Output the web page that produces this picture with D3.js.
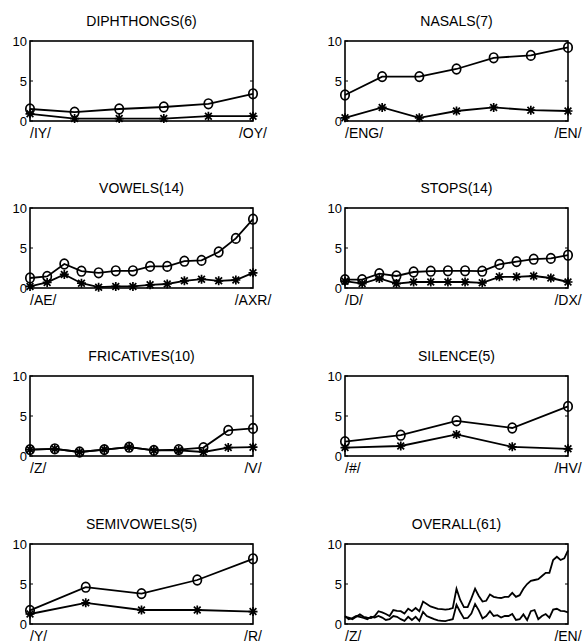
<!DOCTYPE html>
<html>
<head>
<meta charset="utf-8" />
<script src="https://cdn.jsdelivr.net/npm/d3@7"></script>
<style>
	body { margin: 0; background: #fff; }
	svg { display: block; font-family: 'Liberation Sans', Arial, sans-serif; }
	.frame { fill: none; stroke: #000; stroke-width: 1.6px; }
	.series { fill: none; stroke: #000; stroke-width: 1.8px; }
	.marker { fill: none; stroke: #000; stroke-width: 1.7px; }
</style>
</head>
<body>
<svg id="chart"></svg>
<script>
const titles = ['DIPHTHONGS(6)', 'NASALS(7)', 'VOWELS(14)', 'STOPS(14)', 'FRICATIVES(10)', 'SILENCE(5)', 'SEMIVOWELS(5)', 'OVERALL(61)'];
const firstLabels = ['/IY/', '/ENG/', '/AE/', '/D/', '/Z/', '/#/', '/Y/', '/Z/'];
const lastLabels = ['/OY/', '/EN/', '/AXR/', '/DX/', '/V/', '/HV/', '/R/', '/EN/'];
const yTicks = [0, 5, 10];

// circle series / star series for each class
const diphthongsO = [1.5, 1.1, 1.5, 1.75, 2.15, 3.4];
const diphthongsX = [0.9, 0.3, 0.3, 0.3, 0.6, 0.6];
const nasalsO = [3.25, 5.55, 5.55, 6.5, 7.9, 8.2, 9.2];
const nasalsX = [0.4, 1.7, 0.4, 1.25, 1.7, 1.35, 1.25];
const vowelsO = [1.25, 1.45, 3.0, 2.1, 1.9, 2.15, 2.15, 2.7, 2.7, 3.35, 3.45, 4.5, 6.2, 8.6];
const vowelsX = [0.2, 0.7, 1.7, 0.6, 0.1, 0.2, 0.2, 0.4, 0.5, 0.9, 1.1, 0.9, 1.0, 1.9];
const stopsO = [1.05, 1.05, 1.8, 1.5, 2.0, 2.1, 2.15, 2.15, 2.1, 2.95, 3.3, 3.6, 3.7, 4.1];
const stopsX = [0.85, 0.55, 1.2, 0.55, 0.75, 0.75, 0.75, 0.75, 0.65, 1.4, 1.4, 1.5, 1.25, 0.75];
const fricativesO = [0.8, 0.9, 0.5, 0.8, 1.1, 0.7, 0.8, 1.05, 3.2, 3.45];
const fricativesX = [0.8, 0.9, 0.5, 0.8, 1.1, 0.7, 0.7, 0.5, 1.05, 1.1];
const silenceO = [1.8, 2.6, 4.4, 3.5, 6.2];
const silenceX = [1.05, 1.25, 2.7, 1.15, 0.9];
const semivowelsO = [1.7, 4.6, 3.8, 5.5, 8.15];
const semivowelsX = [1.25, 2.65, 1.75, 1.75, 1.55];
const overallUpper = [0.9, 0.8, 0.6, 0.9, 1.2, 0.9, 0.8, 0.75, 1.0, 1.6,
	1.45, 1.25, 1.0, 1.75, 1.65, 1.6, 1.3, 1.9, 1.6, 2.0,
	1.6, 2.8, 2.5, 2.2, 2.05, 1.9, 1.85, 1.8, 1.85, 2.0,
	4.4, 3.0, 2.1, 2.1, 3.2, 4.4, 3.5, 2.8, 2.9, 3.7,
	3.4, 3.3, 3.25, 3.4, 3.4, 3.9, 3.4, 3.6, 4.4, 5.0,
	5.4, 5.5, 5.6, 6.0, 6.4, 6.4, 8.0, 8.4, 8.0, 8.2, 9.2];
const overallLower = [1.0, 0.6, 0.75, 1.0, 0.9, 0.75, 0.6, 0.9, 0.8, 1.0,
	0.8, 0.5, 0.6, 1.0, 0.9, 0.6, 0.4, 0.9, 0.5, 0.9,
	0.4, 1.5, 1.0, 0.8, 0.6, 0.45, 0.4, 0.35, 0.5, 0.6,
	2.4, 1.5, 0.7, 0.75, 1.3, 2.5, 1.7, 0.7, 1.0, 1.6,
	1.0, 1.1, 0.8, 1.0, 1.0, 1.25, 0.5, 0.6, 1.2, 0.5,
	1.6, 1.75, 0.6, 1.0, 1.25, 0.8, 1.8, 1.9, 1.65, 1.6, 1.45];

const circleSeries = [diphthongsO, nasalsO, vowelsO, stopsO, fricativesO, silenceO, semivowelsO, overallUpper];
const starSeries = [diphthongsX, nasalsX, vowelsX, stopsX, fricativesX, silenceX, semivowelsX, overallLower];

const width = 584;
const height = 644;
const colX = [30, 345];
const rowY = [41, 208, 376, 544];
const plotW = 223;
const plotH = 80;

const svg = d3.select('#chart').attr('width', width).attr('height', height);

const starPath = (s) => {
	const a = s * 0.75;
	return `M${-s},0H${s}M0,${-s}V${s}M${-a},${-a}L${a},${a}M${-a},${a}L${a},${-a}`;
};

titles.forEach((title, i) => {
	const x0 = colX[i % 2];
	const y0 = rowY[Math.floor(i / 2)];
	const O = circleSeries[i];
	const X = starSeries[i];
	const noMarkers = i === 7;

	const x = d3.scalePoint().domain(d3.range(O.length)).range([x0, x0 + plotW]);
	const y = d3.scaleLinear().domain([0, 10]).range([y0 + plotH, y0]);

	const g = svg.append('g');

	g.append('text')
		.attr('x', x0 + plotW / 2)
		.attr('y', y0 - 15.5)
		.attr('text-anchor', 'middle')
		.style('font-size', '14px')
		.text(title);

	g.append('rect')
		.attr('class', 'frame')
		.attr('x', x0)
		.attr('y', y0)
		.attr('width', plotW)
		.attr('height', plotH);

	// inward ticks on both sides
	yTicks.forEach((t) => {
		g.append('line').attr('x1', x0).attr('x2', x0 + 3).attr('y1', y(t)).attr('y2', y(t)).attr('stroke', '#000');
		g.append('line').attr('x1', x0 + plotW).attr('x2', x0 + plotW - 3).attr('y1', y(t)).attr('y2', y(t)).attr('stroke', '#000');
		g.append('text')
			.attr('x', x0 - 3)
			.attr('y', y(t))
			.attr('dy', '0.36em')
			.attr('text-anchor', 'end')
			.style('font-size', '13px')
			.text(t);
	});

	g.append('text')
		.attr('x', x0)
		.attr('y', y0 + plotH + 16.5)
		.style('font-size', '14px')
		.text(firstLabels[i]);
	g.append('text')
		.attr('x', x0 + plotW)
		.attr('y', y0 + plotH + 16.5)
		.attr('text-anchor', 'middle')
		.style('font-size', '14px')
		.text(lastLabels[i]);

	const line = d3.line().x((d, j) => x(j)).y((d) => y(d));

	[O, X].forEach((s) => {
		g.append('path').attr('class', 'series').attr('d', line(s));
	});

	if (noMarkers) return;

	g.selectAll('.o')
		.data(O)
		.enter()
		.append('ellipse')
		.attr('class', 'marker')
		.attr('cx', (d, j) => x(j))
		.attr('cy', (d) => y(d))
		.attr('rx', 4.2)
		.attr('ry', 4.8);

	g.selectAll('.x')
		.data(X)
		.enter()
		.append('path')
		.attr('class', 'marker')
		.attr('transform', (d, j) => `translate(${x(j)},${y(d)})`)
		.attr('d', starPath(4.5));
});
</script>
</body>
</html>
